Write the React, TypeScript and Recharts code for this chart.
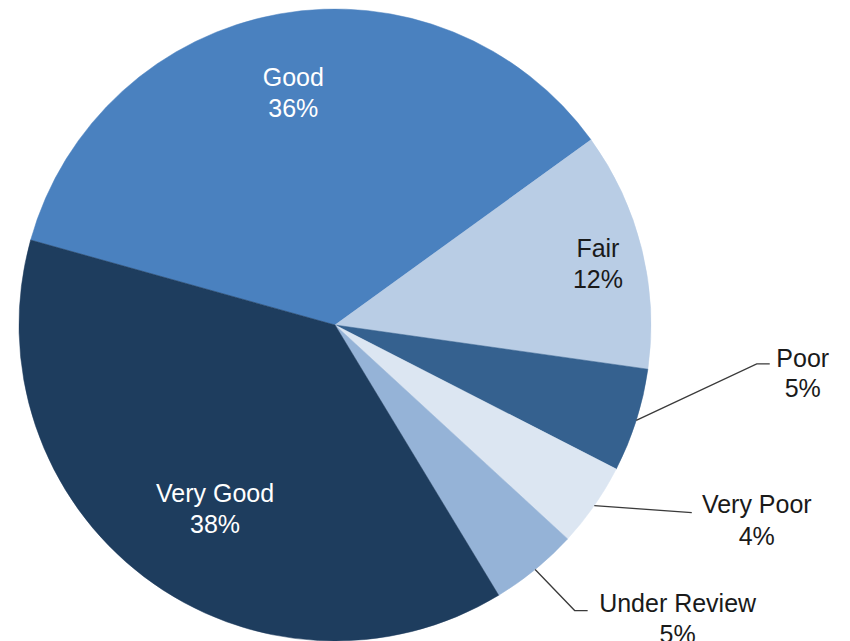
import React from 'react';
import { PieChart, Pie, Cell } from 'recharts';

const categories = ['Good', 'Fair', 'Poor', 'Very Poor', 'Under Review', 'Very Good'];
const shares = [35.7, 12.2, 5.3, 4.3, 4.5, 38.0];
const colors = ['#4A81BF', '#B9CDE5', '#35618F', '#DCE6F2', '#95B3D7', '#1E3D5E'];

const data = categories.map((name, i) => ({ name, value: shares[i] }));

const RAD = Math.PI / 180;
const polar = (cx: number, cy: number, r: number, a: number) => ({
  x: cx + r * Math.cos(-a * RAD),
  y: cy + r * Math.sin(-a * RAD),
});

type Layout =
  | { kind: 'inside'; rf: number; da: number; color: string }
  | { kind: 'outside'; lineDx: number; lineDy: number; tail: number; tx: number; ty1: number; ty2: number };

const labelLayout: Layout[] = [
  { kind: 'inside', rf: 0.75, da: 0, color: '#ffffff' },
  { kind: 'inside', rf: 0.855, da: -0.6, color: '#1a1a1a' },
  { kind: 'outside', lineDx: 120.5, lineDy: -56.5, tail: 13, tx: 33, ty1: -6, ty2: 24 },
  { kind: 'outside', lineDx: 97.5, lineDy: 7, tail: 0, tx: 65, ty1: -9, ty2: 23 },
  { kind: 'outside', lineDx: 39.5, lineDy: 41, tail: 13, tx: 90, ty1: -8, ty2: 23 },
  { kind: 'inside', rf: 0.693, da: 4, color: '#ffffff' },
];

const FONT = '"Liberation Sans", Arial, sans-serif';
const FS = 25;

const renderLabel = (props: any) => {
  const { cx, cy, midAngle, outerRadius, index, percent, name } = props;
  const layout = labelLayout[index];
  const pct = `${Math.round(percent * 100)}%`;
  if (layout.kind === 'inside') {
    const p = polar(cx, cy, outerRadius * layout.rf, midAngle + layout.da);
    return (
      <g key={`lbl-${index}`}>
        <text x={p.x} y={p.y - 15} fill={layout.color} textAnchor="middle" dominantBaseline="central" fontFamily={FONT} fontSize={FS}>
          {name}
        </text>
        <text x={p.x} y={p.y + 16} fill={layout.color} textAnchor="middle" dominantBaseline="central" fontFamily={FONT} fontSize={FS}>
          {pct}
        </text>
      </g>
    );
  }
  const e = polar(cx, cy, outerRadius, midAngle);
  const elbow = { x: e.x + layout.lineDx, y: e.y + layout.lineDy };
  const end = { x: elbow.x + layout.tail, y: elbow.y };
  return (
    <g key={`lbl-${index}`}>
      <polyline
        points={`${e.x},${e.y} ${elbow.x},${elbow.y} ${end.x},${end.y}`}
        fill="none"
        stroke="#3a3a3a"
        strokeWidth={1.3}
      />
      <text x={end.x + layout.tx} y={end.y + layout.ty1} fill="#1a1a1a" textAnchor="middle" dominantBaseline="central" fontFamily={FONT} fontSize={FS}>
        {name}
      </text>
      <text x={end.x + layout.tx} y={end.y + layout.ty2} fill="#1a1a1a" textAnchor="middle" dominantBaseline="central" fontFamily={FONT} fontSize={FS}>
        {pct}
      </text>
    </g>
  );
};

export default function App() {
  return (
    <div style={{ position: 'absolute', left: 0, top: 0, width: 850, height: 641, overflow: 'hidden', background: '#ffffff' }}>
      <PieChart width={850} height={641} margin={{ top: 0, right: 0, bottom: 0, left: 0 }}>
        <Pie
          data={data}
          dataKey="value"
          nameKey="name"
          cx={335}
          cy={325}
          outerRadius={316}
          startAngle={164.4}
          endAngle={-195.6}
          stroke="none"
          label={renderLabel}
          labelLine={false}
          isAnimationActive={false}
        >
          {data.map((d, i) => (
            <Cell key={d.name} fill={colors[i]} stroke={colors[i]} strokeWidth={0.5} />
          ))}
        </Pie>
      </PieChart>
    </div>
  );
}
